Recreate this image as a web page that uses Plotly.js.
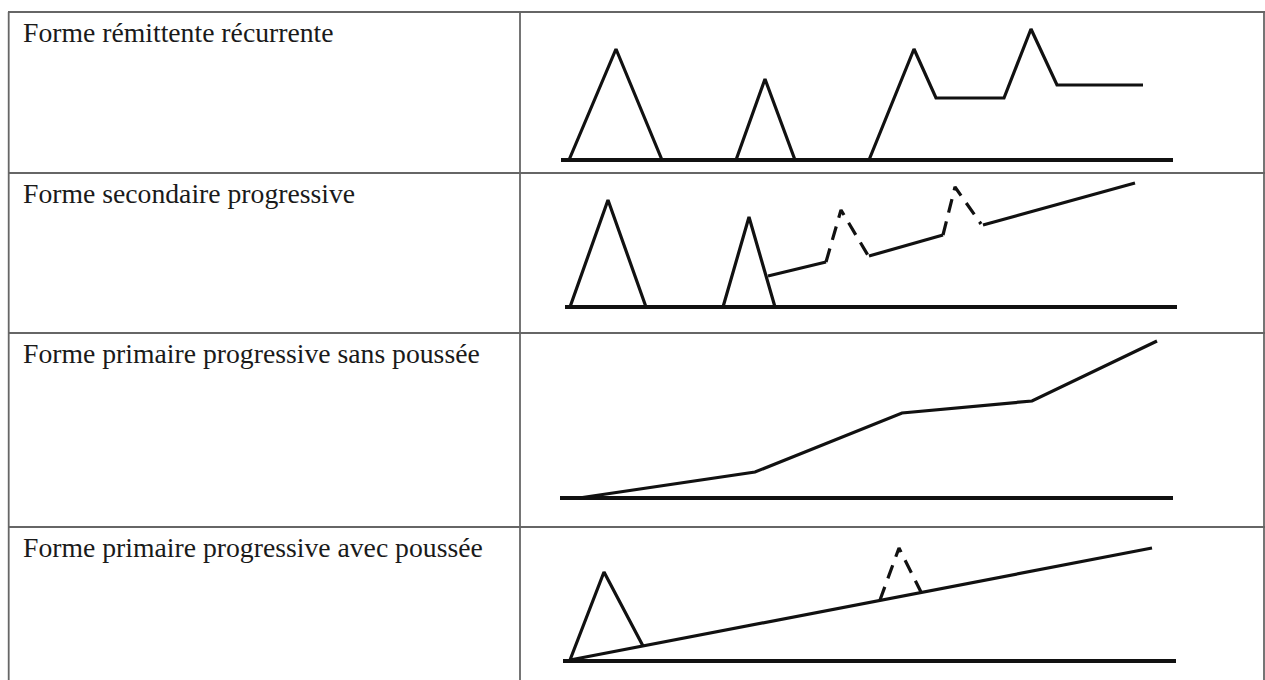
<!DOCTYPE html>
<html>
<head>
<meta charset="utf-8">
<script src="https://cdn.plot.ly/plotly-3.0.1.min.js"></script>
<style>html,body{margin:0;padding:0;background:#fff;overflow:hidden}</style>
</head>
<body>
<div id="chart" style="width:1265px;height:680px"></div>
<script>
// ---- Data (x = time position, y = disability level above baseline) ----
const rowLabels = [
  "Forme rémittente récurrente",
  "Forme secondaire progressive",
  "Forme primaire progressive sans poussée",
  "Forme primaire progressive avec poussée"
];

// Row 1 : relapsing-remitting
const r1BaseX = [561, 1173];
const r1BaseY = [0, 0];
const r1SolidX = [569, 616, 662, null, 736, 765, 795, null, 869, 914, 936, 1004, 1031, 1057, 1143];
const r1SolidY = [0, 111, 0, null, 0, 81, 0, null, 0, 111, 62, 62, 131, 75, 75];

// Row 2 : secondary progressive
const r2BaseX = [565, 1177];
const r2BaseY = [0, 0];
const r2SolidX = [570, 608, 646, null, 723, 749, 775, null, 768, 826, null, 869, 943, null, 983, 1135];
const r2SolidY = [0, 107, 0, null, 0, 90, 0, null, 31, 45, null, 51, 72, null, 82, 124];
const r2DashX = [826, 841, 869, null, 943, 955, 981];
const r2DashY = [45, 97, 50, null, 72, 120, 83];

// Row 3 : primary progressive without relapse
const r3BaseX = [560, 1173];
const r3BaseY = [0, 0];
const r3SolidX = [579, 755, 902, 1032, 1157];
const r3SolidY = [0, 26, 85, 97, 157];

// Row 4 : primary progressive with relapse
const r4BaseX = [563, 1176];
const r4BaseY = [0, 0];
const r4SolidX = [570, 1152, null, 570, 604, 643];
const r4SolidY = [1, 113, null, 1, 89, 15];
const r4DashX = [880, 899, 921];
const r4DashY = [61, 113, 69];

// ---- Layout helpers ----
const W = 1265, H = 680;
const rows = [
  {top: 12,  bottom: 173, base: 160},
  {top: 173, bottom: 333, base: 307},
  {top: 333, bottom: 527, base: 498},
  {top: 527, bottom: 680, base: 661}
];
const px = v => v / W;
const py = v => 1 - v / H;

const ink = "#111111";
const solid = {color: ink, width: 3.2};
const baseLine = {color: ink, width: 3.8};
const dashed = {color: ink, width: 3.2, dash: "14px,9px"};

function tr(x, y, row, line) {
  return {
    x: x, y: y, type: "scatter", mode: "lines",
    line: line, connectgaps: false, hoverinfo: "skip",
    xaxis: "x", yaxis: row === 0 ? "y" : "y" + (row + 1),
    cliponaxis: false
  };
}

const traces = [
  tr(r1BaseX, r1BaseY, 0, baseLine),
  tr(r1SolidX, r1SolidY, 0, solid),
  tr(r2BaseX, r2BaseY, 1, baseLine),
  tr(r2SolidX, r2SolidY, 1, solid),
  tr(r2DashX, r2DashY, 1, dashed),
  tr(r3BaseX, r3BaseY, 2, baseLine),
  tr(r3SolidX, r3SolidY, 2, solid),
  tr(r4BaseX, r4BaseY, 3, baseLine),
  tr(r4SolidX, r4SolidY, 3, solid),
  tr(r4DashX, r4DashY, 3, dashed)
];

const layout = {
  width: W, height: H,
  margin: {l: 0, r: 0, t: 0, b: 0, pad: 0},
  paper_bgcolor: "#ffffff",
  plot_bgcolor: "rgba(0,0,0,0)",
  showlegend: false,
  xaxis: {range: [0, W], domain: [0, 1], visible: false, fixedrange: true}
};
rows.forEach((r, i) => {
  const key = i === 0 ? "yaxis" : "yaxis" + (i + 1);
  layout[key] = {
    domain: [py(r.bottom), py(r.top)],
    range: [-(r.bottom - r.base), r.base - r.top],
    visible: false, fixedrange: true, anchor: "x"
  };
});

// table grid
const gridColor = "#666666";
const gw = 1.8;
const shapes = [];
function hline(y, x0, x1) {
  shapes.push({type: "line", xref: "paper", yref: "paper",
    x0: px(x0), x1: px(x1), y0: py(y), y1: py(y),
    line: {color: gridColor, width: gw}});
}
function vline(x, y0, y1) {
  shapes.push({type: "line", xref: "paper", yref: "paper",
    x0: px(x), x1: px(x), y0: py(y0), y1: py(y1),
    line: {color: gridColor, width: gw}});
}
hline(12, 8, 1265);
hline(173, 8, 1265);
hline(333, 8, 1265);
hline(527, 8, 1265);
vline(8.7, 12, 680);
vline(520, 12, 680);
vline(1264, 12, 680);
layout.shapes = shapes;

layout.annotations = rowLabels.map((t, i) => ({
  text: t, xref: "paper", yref: "paper",
  x: px(21), y: py(rows[i].top + 3),
  xanchor: "left", yanchor: "top", showarrow: false,
  font: {family: "Liberation Serif, 'Times New Roman', serif", size: 27.7, color: "#1a1a1a"}
}));

Plotly.newPlot("chart", traces, layout, {staticPlot: true, displayModeBar: false});
</script>
</body>
</html>
